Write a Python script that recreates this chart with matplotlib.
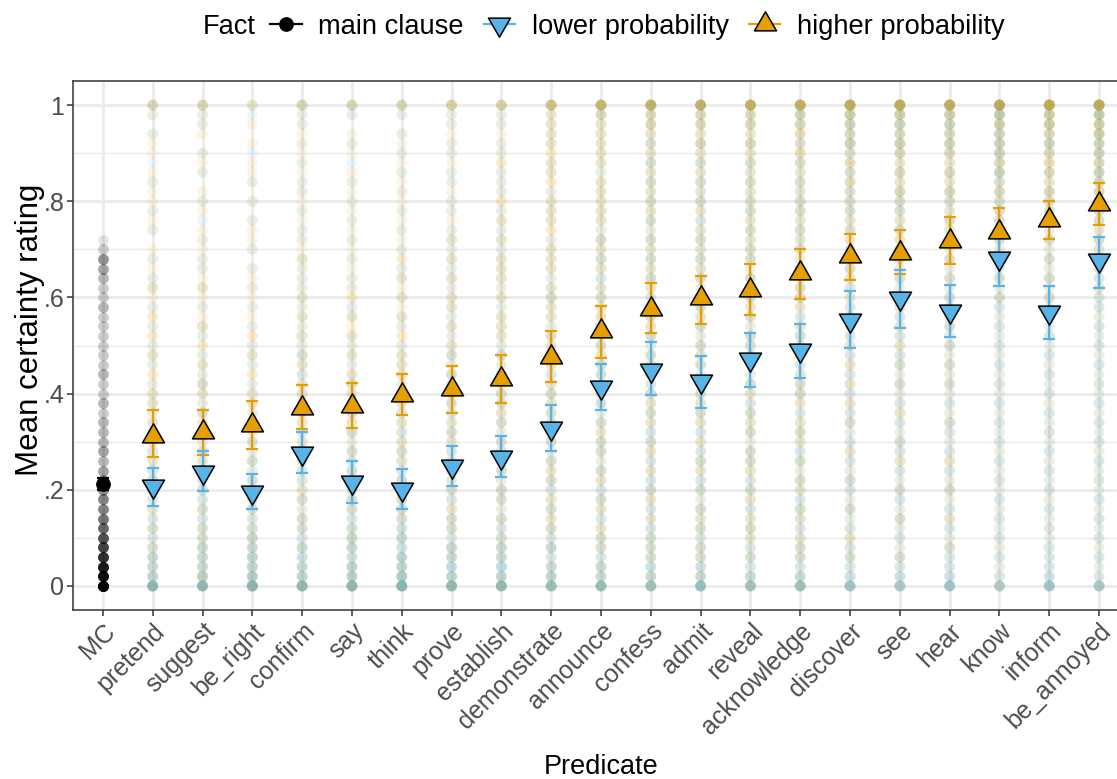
import numpy as np
import matplotlib
matplotlib.use("Agg")
import matplotlib.pyplot as plt
from matplotlib.path import Path
from matplotlib.lines import Line2D
from matplotlib.colors import to_rgba

plt.rcParams['font.family'] = ['Liberation Sans', 'DejaVu Sans']

# ---------------- data ----------------
predicates = ["pretend", "suggest", "be_right", "confirm", "say", "think", "prove",
              "establish", "demonstrate", "announce", "confess", "admit", "reveal",
              "acknowledge", "discover", "see", "hear", "know", "inform", "be_annoyed"]
categories = ["MC"] + predicates

mc_mean = 0.212
mc_low = 0.200
mc_high = 0.224

hi_mean = [0.311, 0.320, 0.335, 0.371, 0.375, 0.398, 0.410, 0.430, 0.476, 0.530,
           0.576, 0.598, 0.616, 0.650, 0.687, 0.692, 0.718, 0.735, 0.760, 0.795]
hi_low = [0.268, 0.272, 0.285, 0.326, 0.328, 0.356, 0.360, 0.381, 0.424, 0.475,
          0.527, 0.544, 0.563, 0.597, 0.636, 0.649, 0.670, 0.690, 0.722, 0.750]
hi_high = [0.365, 0.365, 0.385, 0.417, 0.421, 0.441, 0.458, 0.481, 0.531, 0.583,
           0.629, 0.645, 0.669, 0.700, 0.732, 0.741, 0.767, 0.786, 0.800, 0.837]

lo_mean = [0.207, 0.237, 0.196, 0.277, 0.216, 0.202, 0.249, 0.269, 0.329, 0.414,
           0.450, 0.426, 0.471, 0.490, 0.553, 0.598, 0.571, 0.681, 0.570, 0.677]
lo_low = [0.167, 0.197, 0.159, 0.234, 0.173, 0.161, 0.207, 0.227, 0.281, 0.365,
          0.397, 0.370, 0.413, 0.433, 0.494, 0.537, 0.518, 0.623, 0.514, 0.620]
lo_high = [0.245, 0.281, 0.232, 0.320, 0.259, 0.243, 0.292, 0.312, 0.376, 0.462,
           0.508, 0.478, 0.527, 0.544, 0.613, 0.657, 0.625, 0.726, 0.624, 0.726]

# individual ratings: number of responses at each rating level 0, .02, ..., 1
# (one base-36 digit per level, read bottom to top)
mc_counts = "zpkfca8766 5443433323 2232222223 2234521"

lo_counts = [
    "a433222212 1221212111 1101110101 0110100101 0010100101 2",
    "a433322222 2221212121 1211101101 0101101010 1001010011 2",
    "b544332221 2212121211 1101110101 0101010010 1010010001 1",
    "9433322212 1221212121 2121211111 1111101101 0110101011 2",
    "a443332222 2222212121 1211111011 0110101010 1010101001 2",
    "b544333222 2221212121 1111110110 1011010101 0101010101 2",
    "9443322212 2121212122 2121211111 1111111101 1011011011 2",
    "9443322212 2121221212 2121211111 1111111111 0111011011 2",
    "8432322121 2212122121 2121212111 2111111011 1101101111 3",
    "8332221212 2121221212 2122121211 2121212111 1111111112 5",
    "7332222121 2212122121 2221212121 2121212121 2121212122 6",
    "8332222121 2212212121 2212121212 2121212121 2121212122 6",
    "7322212121 2212212122 1212122121 2121221212 2121212122 6",
    "7322212122 1212212121 2212212121 2212121212 2121212123 6",
    "7322212121 2212121221 2121212122 1212121212 2212123233 7",
    "6322121212 2121221212 1212212121 2121221212 2212123233 7",
    "7322212121 2121212212 1212121221 2121212121 2212123233 7",
    "5212121212 1212121212 1212121212 2121212122 2223233334 8",
    "7322212121 2121212121 2121212121 2121212122 2212123233 7",
    "6212121212 1212121212 1212121212 2121212122 2223233334 8",
]
hi_counts = [
    "6222212121 2212121212 2121212121 1211110111 1111011101 3",
    "6322222121 2122212121 2212121211 1211111101 1101110111 3",
    "7322222122 1212121212 2121212111 1111011110 1011101010 2",
    "6221212212 2112121222 1212212121 2111211111 1111111111 3",
    "6321222122 1221212221 2221212121 2111111111 1111011101 3",
    "6322121222 1212221212 2122212121 2121211111 1111111101 3",
    "6212212221 2212122212 2121221212 2121212111 1111111111 4",
    "6212221212 2122121222 2121212221 2122212121 2111211111 4",
    "5221212222 1222121222 2212222122 2212221222 2122222222 6",
    "5221222122 1221222212 2122221222 2212222122 2221222223 8",
    "4212221212 2121221222 2122212222 1222222122 2222222233 9",
    "4212212221 2122121222 2212221222 2122222212 2222223233 9",
    "4212122212 2122212221 2212222122 2221222222 2222223233 a",
    "4212221221 2212122212 2221222212 2222122222 2222232333 a",
    "3112121121 1211211212 1212121221 2122212222 2232323334 b",
    "3112111211 2112121121 1212121212 2121222222 2323233334 b",
    "3111211211 2112111211 1212121212 2121212222 2323233334 b",
    "3111111111 1111111111 1111111111 2121212222 2323333344 c",
    "3111111111 1111111111 1111111111 2121212122 2323333344 c",
    "3111111111 1111111111 1111111111 1212122222 2333333444 c",
]

fact_labels = ["main clause", "lower probability", "higher probability"]
y_ticks = [0, 0.2, 0.4, 0.6, 0.8, 1.0]
y_ticklabels = ["0", ".2", ".4", ".6", ".8", "1"]

# ---------------- style ----------------
BLUE = "#56B4E9"
ORANGE = "#E69F00"
GRID = "#EBEBEB"
DARK = "#333333"
TICKTXT = "#4D4D4D"
ALPHA = 0.1


def levels(counts):
    s = counts.replace(" ", "")
    return [(i / 50.0, int(ch, 36)) for i, ch in enumerate(s)]


def interleaved(lo_str, hi_str):
    """Individual responses of both Fact conditions, in alternating order."""
    lo_l = dict(levels(lo_str))
    hi_l = dict(levels(hi_str))
    ys, cs = [], []
    for v in sorted(set(lo_l) | set(hi_l)):
        nb, no = lo_l.get(v, 0), hi_l.get(v, 0)
        for k in range(max(nb, no)):
            if k < no:
                ys.append(v)
                cs.append(to_rgba(ORANGE, ALPHA))
            if k < nb:
                ys.append(v)
                cs.append(to_rgba(BLUE, ALPHA))
    return ys, cs


up_tri = Path([(0, 1), (-0.866, -0.5), (0.866, -0.5), (0, 1)],
              [Path.MOVETO, Path.LINETO, Path.LINETO, Path.CLOSEPOLY])
down_tri = Path([(0, -1), (-0.866, 0.5), (0.866, 0.5), (0, -1)],
                [Path.MOVETO, Path.LINETO, Path.LINETO, Path.CLOSEPOLY])

W, H = 1117, 779
fig = plt.figure(figsize=(W / 100, H / 100), dpi=100)
ax = fig.add_axes([73 / W, (H - 610) / H, (1129 - 73) / W, 529 / H])

ax.set_xlim(-0.6, len(categories) - 1 + 0.6)
ax.set_ylim(-0.05, 1.05)

# grid
ax.set_axisbelow(True)
for v in [0.1, 0.3, 0.5, 0.7, 0.9]:
    ax.axhline(v, color=GRID, lw=1.0, zorder=0)
for v in y_ticks:
    ax.axhline(v, color=GRID, lw=2.0, zorder=0)
for i in range(len(categories)):
    ax.axvline(i, color=GRID, lw=2.0, zorder=0)

# individual ratings
DOT = 60
mc_vals = [v for v, n in levels(mc_counts) for _ in range(n)]
ax.scatter([0] * len(mc_vals), mc_vals, s=DOT, color="black", alpha=ALPHA,
           linewidths=0, zorder=2)
for i, p in enumerate(predicates):
    ys, cs = interleaved(lo_counts[i], hi_counts[i])
    ax.scatter([i + 1] * len(ys), ys, s=DOT, c=cs, linewidths=0, zorder=2)

xp = np.arange(1, len(categories))
hm = np.array(hi_mean)
lm = np.array(lo_mean)

# error bars
ax.errorbar([0], [mc_mean], yerr=[[mc_mean - mc_low], [mc_high - mc_mean]], fmt="none",
            ecolor="black", elinewidth=1.6, capsize=4.6, capthick=1.6, zorder=3)
ax.errorbar(xp, hm, yerr=[hm - np.array(hi_low), np.array(hi_high) - hm], fmt="none",
            ecolor=ORANGE, elinewidth=1.6, capsize=4.6, capthick=1.6, zorder=3)
ax.errorbar(xp, lm, yerr=[lm - np.array(lo_low), np.array(lo_high) - lm], fmt="none",
            ecolor=BLUE, elinewidth=1.6, capsize=4.6, capthick=1.6, zorder=3.1)

# means
ax.plot([0], [mc_mean], linestyle="none", marker="o", markersize=9.6, color="black", zorder=4)
ax.plot(xp, hm, linestyle="none", marker=up_tri, markersize=18.3, markerfacecolor=ORANGE,
        markeredgecolor="black", markeredgewidth=1.1, zorder=4)
ax.plot(xp, lm, linestyle="none", marker=down_tri, markersize=18.3, markerfacecolor=BLUE,
        markeredgecolor="black", markeredgewidth=1.1, zorder=4)

# axes styling
for sp in ax.spines.values():
    sp.set_color(DARK)
    sp.set_linewidth(1.1)
ax.set_yticks(y_ticks)
ax.set_yticklabels(y_ticklabels)
ax.set_xticks(range(len(categories)))
ax.set_xticklabels(categories)
ax.tick_params(axis="both", colors=DARK, length=4.3, width=1.1, labelsize=18,
               labelcolor=TICKTXT)
ax.tick_params(axis="y", pad=2)
ax.tick_params(axis="x", pad=2)
plt.setp(ax.get_xticklabels(), rotation=45, ha="right", va="top", rotation_mode="anchor")

fig.text(601 / W, 1 - 767 / H, "Predicate", fontsize=19.5, ha="center", va="center")
fig.text(30 / W, 1 - 330 / H, "Mean certainty rating", fontsize=22.5, ha="center",
         va="center", rotation=90)

# legend
handles = [
    Line2D([], [], color="black", marker="o", markersize=9.6, linewidth=1.6),
    Line2D([], [], color=BLUE, marker=down_tri, markersize=18.3, markerfacecolor=BLUE,
           markeredgecolor="black", markeredgewidth=1.1, linewidth=1.6),
    Line2D([], [], color=ORANGE, marker=up_tri, markersize=18.3, markerfacecolor=ORANGE,
           markeredgecolor="black", markeredgewidth=1.1, linewidth=1.6),
]
fig.legend(handles, fact_labels, loc="center left", bbox_to_anchor=(270 / W, 1 - 27 / H),
           ncol=3, frameon=False, fontsize=19.6, handlelength=1.17, handletextpad=0.6,
           columnspacing=0.73, borderpad=0, borderaxespad=0, numpoints=1)
fig.text(203 / W, 1 - 27 / H, "Fact", fontsize=19.6, ha="left", va="center")

fig.savefig("out.png", dpi=100)
